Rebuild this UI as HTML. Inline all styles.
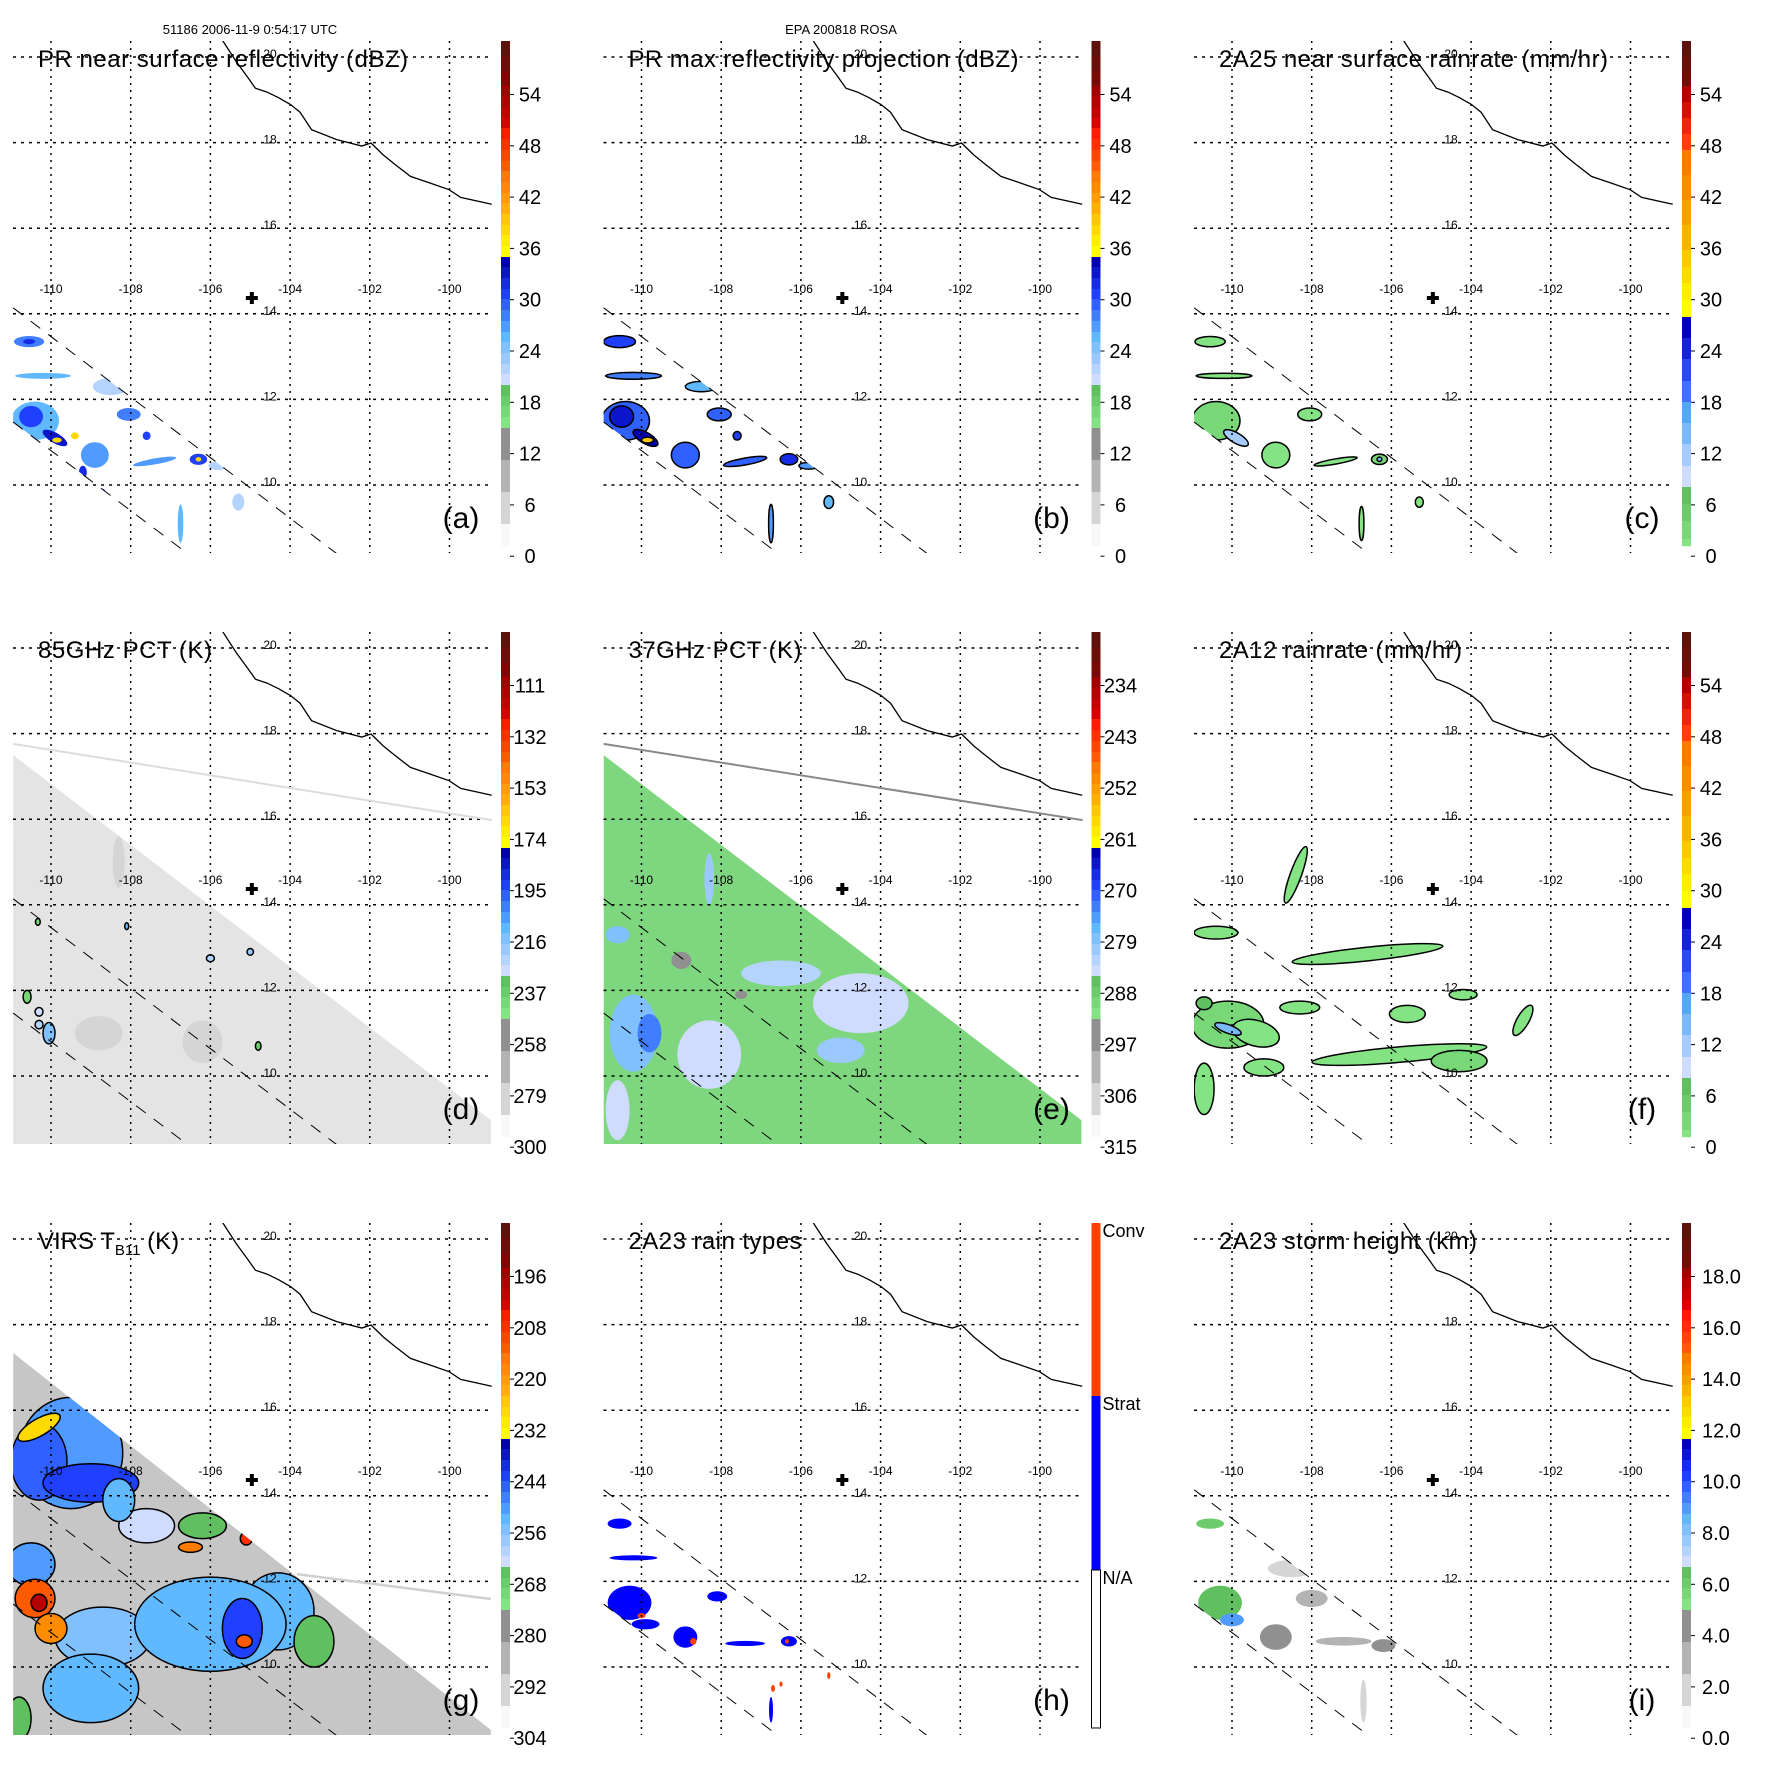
<!DOCTYPE html>
<html><head><meta charset="utf-8"><style>
html,body{margin:0;padding:0;background:#fff;}
svg{display:block;font-family:"Liberation Sans",sans-serif;}
</style></head><body>
<svg id="fig" width="1771" height="1771" viewBox="0 0 1771 1771" xmlns="http://www.w3.org/2000/svg">
<rect width="1771" height="1771" fill="#fff"/>
<text x="250" y="34" font-size="13" text-anchor="middle">51186 2006-11-9 0:54:17 UTC</text>
<text x="841" y="34" font-size="13" text-anchor="middle">EPA 200818 ROSA</text>
</svg>
<script>
// ---- data ----
const coastLon=[-105.69,-105.35,-105.06,-104.87,-104.58,-104.29,-103.99,-103.75,-103.46,-102.83,-102.20,-101.97,-101.66,-101.37,-100.98,-100.50,-100.01,-99.72,-98.94];
const coastLat=[20.38,19.89,19.52,19.27,19.18,19.05,18.89,18.71,18.30,18.07,17.92,17.99,17.71,17.49,17.21,17.06,16.90,16.72,16.56];
const lonTicks=[-110,-108,-106,-104,-102,-100];
const latTicks=[20,18,16,14,12,10];
const stormCenter=[-104.96,14.37];
const swathUpper=[[-110.95,14.14],[-102.82,8.39]];
const swathLower=[[-110.95,11.47],[-106.56,8.39]];
const tmiEdge=[[-110.95,17.5],[-98.96,8.97],[-98.96,8.4],[-110.95,8.4]];
const virsEdge=[[-110.95,17.34],[-98.96,8.53],[-98.96,8.4],[-110.95,8.4]];
const labelsDbz=["54","48","42","36","30","24","18","12","6","0"];
const labelsRain=["54","48","42","36","30","24","18","12","6","0"];
const labels85=["111","132","153","174","195","216","237","258","279","300"];
const labels37=["234","243","252","261","270","279","288","297","306","315"];
const labelsVirs=["196","208","220","232","244","256","268","280","292","304"];
const labelsHt=["18.0","16.0","14.0","12.0","10.0","8.0","6.0","4.0","2.0","0.0"];
const blobsA=[[-110.55,13.35,0.38,0.13,28],[-110.55,13.35,0.15,0.06,32],[-110.2,12.55,0.7,0.07,26],[-110.4,11.5,0.6,0.45,26],[-110.5,11.6,0.3,0.25,31],[-109.9,11.1,0.35,0.12,33,30],[-109.85,11.05,0.12,0.06,38],[-109.4,11.15,0.1,0.08,38],[-108.9,10.7,0.35,0.3,27],[-109.2,10.3,0.1,0.15,32],[-108.05,11.65,0.3,0.15,28],[-108.5,12.3,0.45,0.2,22],[-107.4,10.55,0.55,0.07,27,-10],[-106.3,10.6,0.22,0.13,31],[-106.3,10.6,0.07,0.05,38],[-105.8,10.45,0.25,0.1,22],[-106.75,9.1,0.07,0.45,25],[-105.3,9.6,0.15,0.2,22],[-107.6,11.15,0.1,0.1,30],[-108.7,9.85,0.06,0.06,30]];
const blobsB=[[-110.55,13.35,0.4,0.14,30],[-110.2,12.55,0.7,0.08,28],[-110.4,11.5,0.6,0.45,29],[-110.5,11.6,0.3,0.25,33],[-109.9,11.1,0.35,0.13,34,30],[-109.85,11.05,0.15,0.07,39],[-108.9,10.7,0.35,0.3,29],[-108.05,11.65,0.3,0.15,29],[-108.5,12.3,0.4,0.12,26],[-107.4,10.55,0.55,0.08,29,-10],[-106.3,10.6,0.22,0.13,32],[-105.8,10.45,0.25,0.08,27],[-106.75,9.1,0.06,0.45,27],[-105.3,9.6,0.12,0.15,26],[-107.6,11.15,0.1,0.1,30]];
const blobsC=[[-110.55,13.35,0.38,0.12,2],[-110.2,12.55,0.7,0.06,2],[-110.4,11.5,0.6,0.45,3],[-109.9,11.1,0.35,0.12,12,30],[-108.9,10.7,0.35,0.3,2],[-108.05,11.65,0.3,0.15,2],[-107.4,10.55,0.55,0.06,2,-10],[-106.3,10.6,0.2,0.12,3],[-106.3,10.6,0.06,0.05,14],[-106.75,9.1,0.06,0.4,2],[-105.3,9.6,0.1,0.12,2]];
const blobsD=[[-108.3,15.0,0.15,0.6,285],[-108.8,11.0,0.6,0.4,280],[-106.2,10.8,0.5,0.5,280],[-110.6,11.85,0.1,0.15,240],[-110.3,11.5,0.1,0.1,230],[-110.05,11.0,0.15,0.25,215],[-110.3,11.2,0.1,0.1,225],[-108.1,13.5,0.05,0.08,210],[-106.0,12.75,0.1,0.08,225],[-105.0,12.9,0.08,0.08,220],[-104.8,10.7,0.07,0.1,235],[-110.33,13.6,0.06,0.08,240]];
const blobsE=[[-110.2,11.0,0.6,0.9,278],[-109.8,11.0,0.3,0.45,272],[-110.6,13.3,0.3,0.2,278],[-108.3,14.6,0.12,0.6,280],[-106.5,12.4,1.0,0.3,283],[-104.5,11.7,1.2,0.7,284],[-105.0,10.6,0.6,0.3,281],[-108.3,10.5,0.8,0.8,284],[-110.6,9.2,0.3,0.7,284],[-109.0,12.7,0.25,0.2,295],[-107.5,11.9,0.15,0.1,295]];
const blobsF=[[-106.6,12.85,1.9,0.16,2,-6],[-110.4,13.35,0.55,0.15,2],[-110.1,11.2,0.9,0.55,3],[-109.4,11.0,0.6,0.3,2,15],[-110.7,9.7,0.25,0.6,2],[-109.2,10.2,0.5,0.2,2],[-105.8,10.5,2.2,0.18,2,-5],[-104.3,10.35,0.7,0.25,3],[-108.4,14.7,0.14,0.7,2,20],[-102.7,11.3,0.15,0.4,2,30],[-104.2,11.9,0.35,0.12,2],[-105.6,11.45,0.45,0.2,2],[-108.3,11.6,0.5,0.15,2],[-110.1,11.1,0.35,0.1,14,20],[-110.7,11.7,0.2,0.15,8]];
const blobsG=[[-109.5,15.0,1.3,1.3,250],[-107.6,13.3,0.7,0.4,262],[-108.7,10.7,1.2,0.7,256],[-104.3,11.3,0.9,0.9,252],[-103.4,10.6,0.5,0.6,266],[-106.2,13.3,0.6,0.3,266],[-110.3,14.8,0.7,0.9,246],[-109.0,14.3,1.2,0.45,244],[-110.3,15.6,0.6,0.2,228,-30],[-108.3,13.9,0.4,0.5,252],[-110.5,12.4,0.6,0.5,250],[-106.0,11.0,1.9,1.1,252],[-105.2,10.9,0.5,0.7,242],[-109.0,9.5,1.2,0.8,252],[-110.8,8.8,0.3,0.5,266],[-110.4,11.6,0.5,0.45,212],[-110.0,10.9,0.4,0.35,218],[-110.3,11.5,0.2,0.2,198],[-105.15,10.6,0.2,0.15,214],[-105.1,13.0,0.15,0.15,208],[-106.5,12.8,0.3,0.12,215]];
const blobsH=[[-110.55,13.35,0.3,0.12,2],[-110.3,11.5,0.55,0.4,2],[-110.2,12.55,0.6,0.06,2],[-109.9,11.0,0.35,0.12,2],[-110.0,11.2,0.1,0.06,1],[-108.9,10.7,0.3,0.25,2],[-108.7,10.6,0.08,0.08,1],[-108.1,11.65,0.25,0.12,2],[-107.4,10.55,0.5,0.06,2],[-106.3,10.6,0.2,0.12,2],[-106.35,10.6,0.05,0.05,1],[-106.7,9.5,0.05,0.08,1],[-106.75,9.0,0.05,0.3,2],[-106.5,9.6,0.04,0.06,1],[-105.3,9.8,0.04,0.08,1]];
const blobsI=[[-110.55,13.35,0.35,0.12,6],[-110.3,11.5,0.55,0.4,6.5],[-110.0,11.1,0.3,0.15,9],[-108.9,10.7,0.4,0.3,4],[-108.0,11.6,0.4,0.2,3],[-107.2,10.6,0.7,0.1,3],[-106.2,10.5,0.3,0.15,4],[-108.5,12.3,0.6,0.2,2],[-106.7,9.2,0.08,0.5,1.5]];

// ---- helpers ----
const NS="http://www.w3.org/2000/svg";
const svg=document.getElementById('fig');
function mk(tag,attrs,parent){const e=document.createElementNS(NS,tag);for(const k in attrs)e.setAttribute(k,attrs[k]);(parent||svg).appendChild(e);return e;}
function xOf(lon){return 51+(lon+110)*39.85;}
function yOf(lat){return 57+(20-lat)*42.8;}
function hex(c){return [parseInt(c.slice(1,3),16),parseInt(c.slice(3,5),16),parseInt(c.slice(5,7),16)];}
function mix(a,b,t){const A=hex(a),B=hex(b);return 'rgb('+A.map((v,i)=>Math.round(v+(B[i]-v)*t)).join(',')+')';}
function seg(u,classes){for(const c of classes){if(u>=c[0]&&u<c[1]){let t=(u-c[0])/(c[1]-c[0]);t=Math.floor(t*4)/3;return mix(c[2],c[3],Math.min(1,t));}}return u<classes[0][0]?classes[0][2]:classes[classes.length-1][3];}
const dbzClasses=[[0,15,'#f8f8f8','#909090'],[15,20,'#84e484','#60c060'],[20,25,'#d0dcff','#80c0ff'],[25,30,'#60b8ff','#3060ff'],[30,35,'#2040ff','#0000b0'],[35,40,'#ffff00','#ffc800'],[40,45,'#ffb000','#ff7a00'],[45,50,'#ff5a00','#ff1a00'],[50,55,'#d80000','#a00000'],[55,62,'#7a0a05','#4e1810']];
const rainClasses=[[0,8.1,'#84e484','#60c060'],[8.1,18,'#d0dcff','#50a8ff'],[18,28,'#4070ff','#0000b0'],[28,35.8,'#ffff00','#ffc800'],[35.8,47.5,'#ffb000','#ff7a00'],[47.5,55,'#ff4000','#b00000'],[55,62,'#7a0a05','#4e1810']];

const panels=[
 {id:'a',c:0,r:0,title:'PR near surface reflectivity (dBZ)',tl:370,cls:dbzClasses,labels:labelsDbz,toU:v=>v,blobs:blobsA,clip:'swath',stroke:null},
 {id:'b',c:1,r:0,title:'PR max reflectivity projection (dBZ)',tl:390,cls:dbzClasses,labels:labelsDbz,toU:v=>v,blobs:blobsB,clip:'swath',stroke:'#000'},
 {id:'c',c:2,r:0,title:'2A25 near surface rainrate (mm/hr)',tl:389,cls:rainClasses,labels:labelsRain,toU:v=>v,blobs:blobsC,clip:'swath',stroke:'#000'},
 {id:'d',c:0,r:1,title:'85GHz PCT (K)',tl:174,cls:dbzClasses,labels:labels85,toU:v=>(300-v)/21*6,blobs:blobsD,clip:'tmi',base:'#e4e4e4',stroke:'#000',strokeMin:15,line:'#dcdcdc'},
 {id:'e',c:1,r:1,title:'37GHz PCT (K)',tl:173,cls:dbzClasses,labels:labels37,toU:v=>(315-v)/9*6,blobs:blobsE,clip:'tmi',base:'#7ed67e',stroke:null,line:'#888888'},
 {id:'f',c:2,r:1,title:'2A12 rainrate (mm/hr)',tl:243,cls:rainClasses,labels:labelsRain,toU:v=>v,blobs:blobsF,clip:null,stroke:'#000'},
 {id:'g',c:0,r:2,title:'VIRS T',tl:146,cls:dbzClasses,labels:labelsVirs,toU:v=>(304-v)/2,blobs:blobsG,clip:'virs',base:'#c6c6c6',stroke:'#000',virs:true},
 {id:'h',c:1,r:2,title:'2A23 rain types',tl:173,cat:true,blobs:blobsH,clip:'swath'},
 {id:'i',c:2,r:2,title:'2A23 storm height (km)',tl:258,cls:dbzClasses,labels:labelsHt,toU:v=>v*3,blobs:blobsI,clip:'swath',stroke:null,labStart:true}
];
const pts=a=>a.map(p=>xOf(p[0])+','+yOf(p[1])).join(' ');

panels.forEach(P=>{
 const g=mk('g',{transform:'translate('+(P.c*590.5)+','+(P.r*591)+')'});
 
 
 const defs=mk('defs',{},g);
 const cp=mk('clipPath',{id:'plot-'+P.id},defs);mk('rect',{x:13,y:41,width:479,height:512},cp);
 const cd=mk('clipPath',{id:'data-'+P.id},defs);
 if(P.clip==='swath'){mk('polygon',{points:pts([swathUpper[0],swathUpper[1],swathLower[1],swathLower[0]])},cd);}
 else if(P.clip==='tmi'){mk('polygon',{points:pts(tmiEdge)},cd);}
 else if(P.clip==='virs'){mk('polygon',{points:pts(virsEdge)},cd);}
 else mk('rect',{x:13,y:41,width:479,height:512},cd);
 const plot=mk('g',{'clip-path':'url(#plot-'+P.id+')'},g);
 const data=mk('g',{'clip-path':'url(#data-'+P.id+')'},plot);
 
 
 if(P.base){const b=mk('polygon',{points:pts(P.clip==='virs'?virsEdge:tmiEdge),fill:P.base},data);
  
  }
 P.blobs.forEach(bl=>{
  const cx=xOf(bl[0]),cy=yOf(bl[1]);
  let fill,u=0;
  if(P.cat){fill=bl[4]===1?'#ff4000':'#0000ff';}
  else {u=P.toU(bl[4]);fill=seg(u,P.cls);}
  const e=mk('ellipse',{cx:cx,cy:cy,rx:bl[2]*39.85,ry:bl[3]*42.8,fill:fill,transform:'rotate('+(bl[5]||0)+' '+cx+' '+cy+')'},data);
  if(P.stroke&&(!P.strokeMin||u>=P.strokeMin)){e.setAttribute('stroke',P.stroke);e.setAttribute('stroke-width','1.5');}
  
  
 });
 lonTicks.forEach(lo=>{const l=mk('line',{x1:xOf(lo),x2:xOf(lo),y1:41,y2:553,stroke:'#000','stroke-width':1.5,'stroke-dasharray':'2,5'},plot);
  
  const t=mk('text',{x:xOf(lo),y:293,'font-size':12,'text-anchor':'middle'},g);t.textContent=lo;
  });
 latTicks.forEach(la=>{const l=mk('line',{x1:13,x2:492,y1:yOf(la),y2:yOf(la),stroke:'#000','stroke-width':1.5,'stroke-dasharray':'3,5'},plot);
  
  const t=mk('text',{x:270,y:yOf(la)+1,'font-size':12,'text-anchor':'middle'},g);t.textContent=la;
  });
 if(P.line){const l=mk('line',{x1:xOf(-110.95),y1:yOf(17.76),x2:xOf(-98.0),y2:yOf(15.84),stroke:P.line,'stroke-width':2},plot);
  }
 if(P.virs){const l=mk('line',{x1:xOf(-103.83),y1:yOf(12.17),x2:xOf(-98.96),y2:yOf(11.59),stroke:'#cfcfcf','stroke-width':2.5},plot);
  }
 [swathUpper,swathLower].forEach(s=>{const l=mk('line',{x1:xOf(s[0][0]),y1:yOf(s[0][1]),x2:xOf(s[1][0]),y2:yOf(s[1][1]),stroke:'#000','stroke-width':1,'stroke-dasharray':'12,10'},plot);
  });
 const c=mk('polyline',{points:coastLon.map((lo,i)=>xOf(lo)+','+yOf(coastLat[i])).join(' '),fill:'none',stroke:'#000','stroke-width':1.3},plot);
 
 const sx=xOf(stormCenter[0]),sy=yOf(stormCenter[1]);
 const cr=mk('path',{d:`M${sx-6},${sy}H${sx+6}M${sx},${sy-6}V${sy+6}`,stroke:'#000','stroke-width':4},g);
 
 const t=mk('text',{x:38,y:67,'font-size':24},g);
 if(P.virs){t.textContent='VIRS T';const s=mk('tspan',{'font-size':15,dy:6},t);s.textContent='B11';const s2=mk('tspan',{dy:-6},t);s2.textContent=' (K)';}
 else{t.textContent=P.title;t.setAttribute('textLength',P.tl);}
 
 const lt=mk('text',{x:461,y:528,'font-size':30,'text-anchor':'middle'},g);lt.textContent='('+P.id+')';
 
 const cb=mk('g',{},g);
 
 if(P.cat){
  mk('rect',{x:501,y:41,width:9,height:173,fill:'#ff4000'},cb);
  mk('rect',{x:501,y:214,width:9,height:174,fill:'#0000ff'},cb);
  mk('rect',{x:501,y:388,width:9,height:158,fill:'#fff',stroke:'#000','stroke-width':1},cb);
  [['Conv',49],['Strat',222],['N/A',396]].forEach(a=>{const tt=mk('text',{x:512,y:a[1]+6,'font-size':18},cb);tt.textContent=a[0];
   });
 } else {
  for(let y=41;y<546;y+=1){const u=(556-y-0.5)/8.55;mk('rect',{x:501,y:y,width:9,height:1.2,fill:seg(u,P.cls)},cb);}
  P.labels.forEach((lb,k)=>{const yy=94.5+51.3*k;
   mk('line',{x1:510,x2:514,y1:yy,y2:yy,stroke:'#000','stroke-width':1},cb);
   const tt=mk('text',{x:P.labStart?521:530,y:yy+7,'font-size':20,'text-anchor':P.labStart?'start':'middle'},cb);tt.textContent=lb;
   });
 }
});
</script>
</body></html>
